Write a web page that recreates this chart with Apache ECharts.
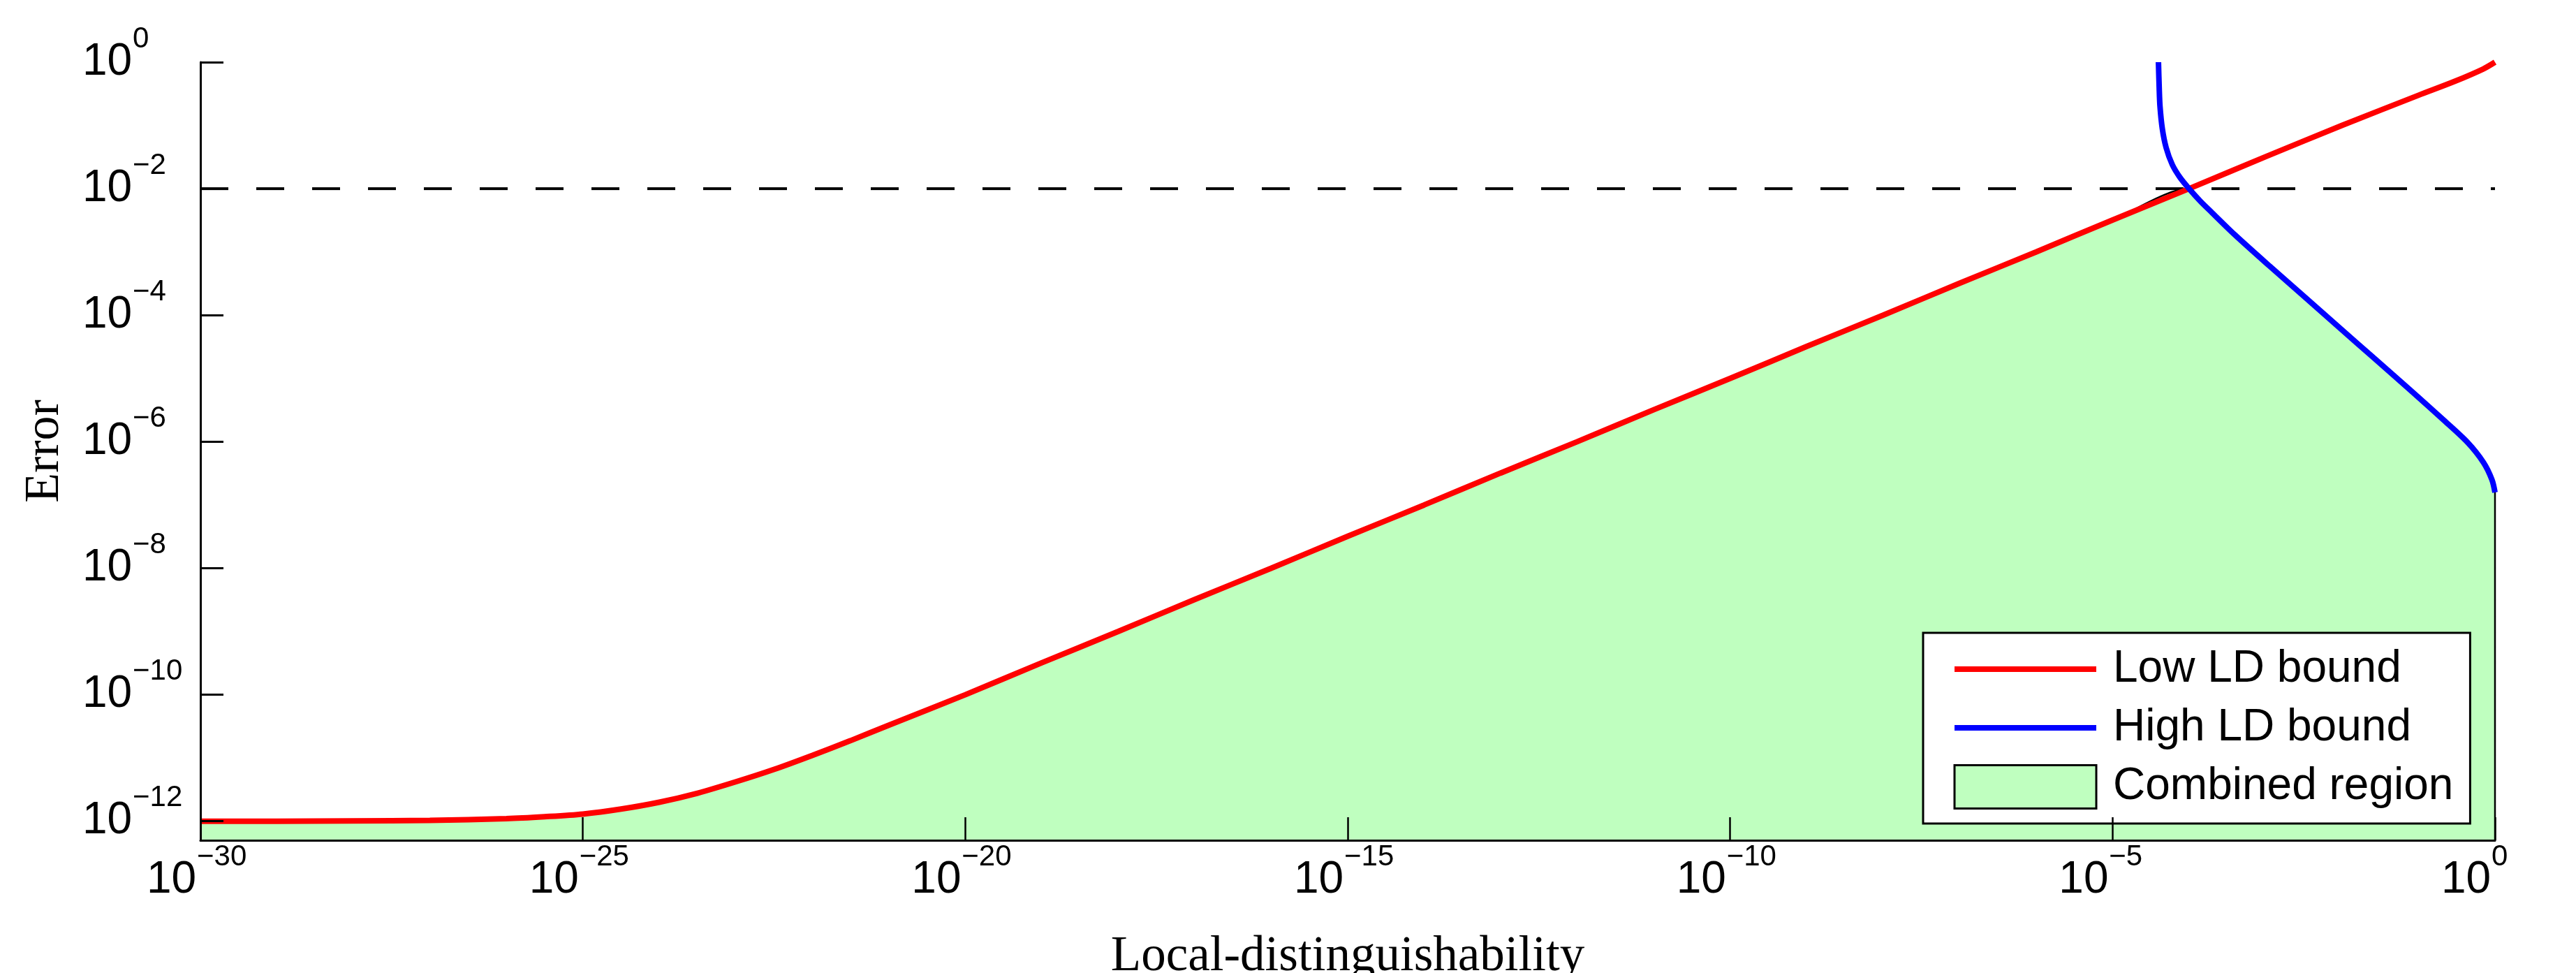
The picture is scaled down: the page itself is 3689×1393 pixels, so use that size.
<!DOCTYPE html>
<html>
<head>
<meta charset="utf-8">
<script src="https://cdn.jsdelivr.net/npm/echarts@6.0.0/dist/echarts.min.js"></script>
<style>
html, body { margin: 0; padding: 0; background: #ffffff; }
#chart { width: 3689px; height: 1393px; }
</style>
</head>
<body>
<div id="chart"></div>
<script>
// ---- data ----
const seriesNames = ['Low LD bound', 'High LD bound', 'Combined region'];

// Low LD bound (red)
const redX = [1e-30, 1e-29, 1e-28, 1e-27, 1e-26, 3.16e-26, 1e-25, 3.16e-25, 1e-24, 3.16e-24, 1e-23, 3.16e-23, 1e-22, 3.16e-22, 1e-21,
              1e-20, 1e-19, 1e-18, 1e-17, 1e-16, 1e-15, 1e-14, 1e-13, 1e-12, 1e-11,
              1e-10, 1e-9, 1e-8, 1e-7, 1e-6, 1e-5, 1e-4, 1e-3, 1e-2, 1e-1, 0.3, 0.7, 1];
const redY = [1.0e-12, 1.0e-12, 1.01e-12, 1.03e-12, 1.1e-12, 1.18e-12, 1.3e-12, 1.56e-12, 2.0e-12, 2.78e-12, 4.2e-12, 6.6e-12, 1.1e-11, 1.88e-11, 3.3e-11,
              1.0e-10, 3.2e-10, 1.0e-9, 3.2e-9, 1.0e-8, 3.2e-8, 1.0e-7, 3.2e-7, 1.0e-6, 3.2e-6,
              1.0e-5, 3.2e-5, 1.0e-4, 3.2e-4, 1.0e-3, 3.2e-3, 1.0e-2, 3.2e-2, 0.1, 0.3, 0.5, 0.78, 1.0];

// High LD bound (blue)
const blueX = [3.98e-5, 4.07e-5, 4.17e-5, 4.47e-5, 5.01e-5, 6.03e-5, 7.59e-5, 1.0e-4, 1.41e-4, 2.0e-4,
               3.98e-4, 1.12e-3, 3.24e-3, 9.12e-3, 0.0263, 0.0759, 0.214, 0.437, 0.708, 0.912, 1.0];
const blueY = [1.0, 0.398, 0.2, 0.0891, 0.0447, 0.024, 0.0151, 0.01, 6.31e-3, 4.17e-3,
               1.86e-3, 6.03e-4, 1.95e-4, 6.46e-5, 2.09e-5, 6.76e-6, 2.19e-6, 9.77e-7, 4.68e-7, 2.51e-7, 1.58e-7];

const crossingX = 1e-4;      // where the two bounds meet
const thresholdY = 1e-2;     // dashed reference line

// axes
const xMin = 1e-30, xMax = 1;
const yMin = 5e-13, yMax = 1;
const xTickValues = [1e-30, 1e-25, 1e-20, 1e-15, 1e-10, 1e-5, 1];
const xTickExps = ['\u221230', '\u221225', '\u221220', '\u221215', '\u221210', '\u22125', '0'];
const yTickValues = [1e-12, 1e-10, 1e-8, 1e-6, 1e-4, 1e-2, 1];
const yTickExps = ['\u221212', '\u221210', '\u22128', '\u22126', '\u22124', '\u22122', '0'];

// ---- build series data ----
const redData = redX.map((x, i) => [x, redY[i]]);
const blueData = blueX.map((x, i) => [x, blueY[i]]);
const combinedData = redData.filter(p => p[0] < crossingX)
  .concat(blueData.filter(p => p[0] >= crossingX))
  .concat([[xMax, yMin]]);
const thresholdData = [[xMin, thresholdY], [xMax, thresholdY]];

function expFormatter(ticks, exps) {
  return function (v) {
    let idx = -1;
    for (let i = 0; i < ticks.length; i++) {
      if (Math.abs(Math.log10(ticks[i]) - Math.log10(v)) < 1e-6) { idx = i; break; }
    }
    if (idx < 0) return '';
    return '{b|10}{s|' + exps[idx] + '}';
  };
}

const SANS = 'Liberation Sans, Arial, Helvetica, sans-serif';
const SERIF = 'Liberation Serif, Times New Roman, serif';

const chart = echarts.init(document.getElementById('chart'), null, { renderer: 'canvas' });
chart.setOption({
  animation: false,
  backgroundColor: '#ffffff',
  grid: { left: 287, right: 116, top: 89, bottom: 190, outerBoundsMode: 'none', containLabel: false },
  legend: {
    orient: 'vertical',
    left: 2754,
    top: 906,
    align: 'left',
    backgroundColor: '#ffffff',
    borderColor: '#000000',
    borderWidth: 3,
    borderRadius: 0,
    padding: [20, 24, 20, 41],
    itemGap: 20,
    itemWidth: 203,
    itemHeight: 62,
    selectedMode: false,
    textStyle: { fontFamily: SANS, fontSize: 64, color: '#000000', padding: [0, 0, 0, 19] },
    lineStyle: { width: 8 },
    data: [
      { name: seriesNames[0], itemStyle: { opacity: 0 } },
      { name: seriesNames[1], itemStyle: { opacity: 0 } },
      { name: seriesNames[2], icon: 'rect', itemStyle: { color: '#BFFFBF', borderColor: '#000000', borderWidth: 3 } }
    ]
  },
  xAxis: {
    type: 'log',
    logBase: 10,
    min: xMin,
    max: xMax,
    z: 10,
    name: 'Local-distinguishability',
    nameLocation: 'middle',
    nameGap: 132,
    nameTextStyle: { fontFamily: SERIF, fontSize: 71, color: '#000000' },
    axisLine: { show: true, onZero: false, lineStyle: { color: '#000000', width: 3 } },
    axisTick: { show: true, inside: true, length: 33, customValues: xTickValues, lineStyle: { color: '#000000', width: 2.5 } },
    minorTick: { show: false },
    splitLine: { show: false },
    axisLabel: {
      customValues: xTickValues,
      formatter: expFormatter(xTickValues, xTickExps),
      margin: 25,
      color: '#000000',
      rich: {
        b: { fontFamily: SANS, fontSize: 64, lineHeight: 64, width: 72, align: 'left', color: '#000000' },
        s: { fontFamily: SANS, fontSize: 42, lineHeight: 42, width: 82, align: 'left', padding: [0, 0, 66, 0], color: '#000000' }
      }
    }
  },
  yAxis: {
    type: 'log',
    logBase: 10,
    min: yMin,
    max: yMax,
    z: 10,
    name: 'Error',
    nameLocation: 'middle',
    nameGap: 187,
    nameTextStyle: { fontFamily: SERIF, fontSize: 70, color: '#000000' },
    axisLine: { show: true, onZero: false, lineStyle: { color: '#000000', width: 3 } },
    axisTick: { show: true, inside: true, length: 33, customValues: yTickValues, lineStyle: { color: '#000000', width: 3 } },
    minorTick: { show: false },
    splitLine: { show: false },
    axisLabel: {
      customValues: yTickValues,
      formatter: expFormatter(yTickValues, yTickExps),
      margin: 31,
      color: '#000000',
      rich: {
        b: { fontFamily: SANS, fontSize: 64, lineHeight: 64, width: 72, align: 'left', color: '#000000' },
        s: { fontFamily: SANS, fontSize: 42, lineHeight: 42, width: 66, align: 'left', padding: [0, 0, 66, 0], color: '#000000' }
      }
    }
  },
  series: [
    {
      name: seriesNames[2],
      type: 'line',
      data: combinedData,
      z: 1,
      symbol: 'none',
      smooth: 0.3,
      clip: true,
      color: '#BFFFBF',
      lineStyle: { color: '#000000', width: 2.5 },
      areaStyle: { color: '#BFFFBF', opacity: 1, origin: 'start' },
      emphasis: { disabled: true },
      silent: true
    },
    {
      name: 'threshold',
      type: 'line',
      data: thresholdData,
      z: 2,
      symbol: 'none',
      lineStyle: { color: '#000000', width: 4, type: [40, 40] },
      emphasis: { disabled: true },
      silent: true
    },
    {
      name: seriesNames[0],
      type: 'line',
      data: redData,
      z: 3,
      symbol: 'none',
      showSymbol: false,
      smooth: 0.3,
      clip: false,
      color: '#FF0000',
      lineStyle: { color: '#FF0000', width: 8 },
      emphasis: { disabled: true },
      silent: true
    },
    {
      name: seriesNames[1],
      type: 'line',
      data: blueData,
      z: 4,
      symbol: 'none',
      showSymbol: false,
      smooth: 0.3,
      clip: false,
      color: '#0000FF',
      lineStyle: { color: '#0000FF', width: 8 },
      emphasis: { disabled: true },
      silent: true
    }
  ]
});
</script>
</body>
</html>
